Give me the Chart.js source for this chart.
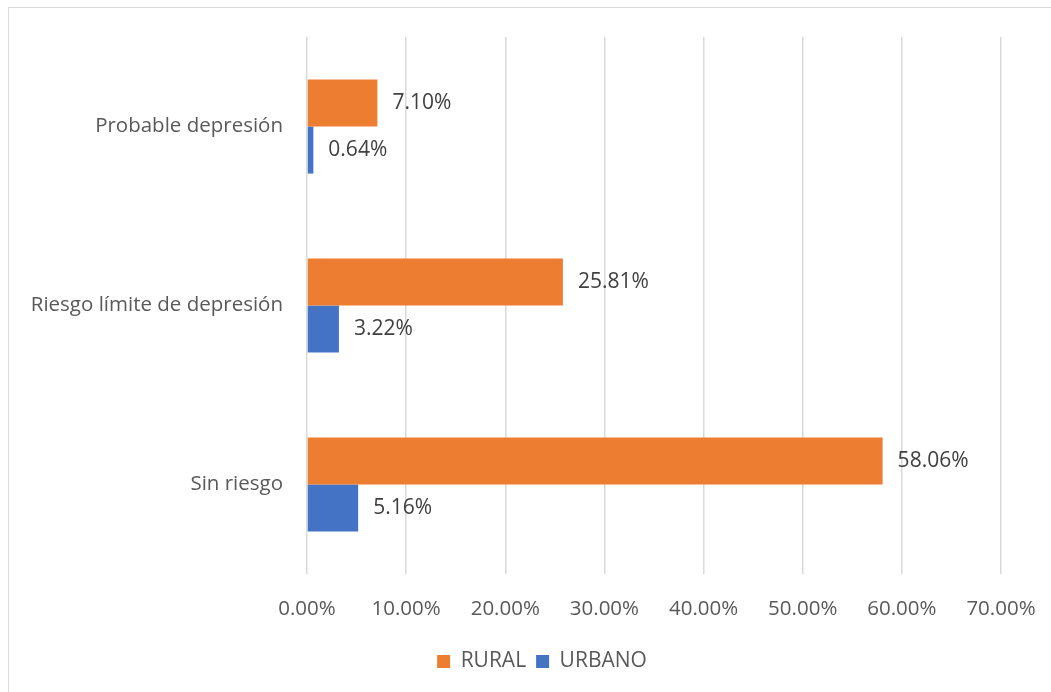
<!DOCTYPE html>
<html lang="es">
<head>
<meta charset="UTF-8" />
<title>Depresión por zona</title>
<script src="https://cdn.jsdelivr.net/npm/chart.js"></script>
<style>
  html, body { margin: 0; padding: 0; background: #fff; overflow: hidden; }
  #frame {
    position: absolute; left: 8px; top: 7px;
    width: 1043px; height: 685px;
    border-top: 1px solid #d9d9d9; border-left: 1px solid #d9d9d9;
    box-sizing: border-box;
  }
</style>
</head>
<body>
<div id="frame"><canvas id="chart"></canvas></div>
<script>
const categories = ["Probable depresión", "Riesgo límite de depresión", "Sin riesgo"];
const rural = [7.10, 25.81, 58.06];
const urbano = [0.64, 3.22, 5.16];

const FONT = "'Open Sans', sans-serif";

// write the value next to the end of each bar
const valueLabels = {
  id: "valueLabels",
  afterDatasetsDraw(chart) {
    const ctx = chart.ctx;
    ctx.save();
    ctx.font = "21px " + FONT;
    ctx.fillStyle = "#404040";
    ctx.textAlign = "left";
    ctx.textBaseline = "middle";
    chart.data.datasets.forEach((ds, i) => {
      chart.getDatasetMeta(i).data.forEach((bar, j) => {
        ctx.fillText(ds.data[j].toFixed(2) + "%", bar.x + 15, bar.y);
      });
    });
    ctx.restore();
  }
};

// nudge the legend a little to the right, under the plot
const legendShift = {
  id: "legendShift",
  afterLayout(chart) {
    chart.legend.left += 37;
    chart.legend.right += 37;
  }
};

new Chart(document.getElementById("chart"), {
  type: "bar",
  data: {
    labels: categories,
    datasets: [
      { label: "RURAL", data: rural, backgroundColor: "#ED7D31" },
      { label: "URBANO", data: urbano, backgroundColor: "#4472C4" }
    ]
  },
  options: {
    indexAxis: "y",
    responsive: true,
    maintainAspectRatio: false,
    animation: false,
    datasets: { bar: { barPercentage: 1, categoryPercentage: 0.526 } },
    layout: { padding: { left: 0, right: 50, top: 29, bottom: 10 } },
    scales: {
      x: {
        min: 0, max: 70,
        ticks: {
          stepSize: 10,
          padding: 1,
          color: "#595959",
          font: { family: FONT, size: 20.5 },
          callback: v => v.toFixed(2) + "%"
        },
        grid: { color: "#d9d9d9", lineWidth: 1.5, tickLength: 22, tickColor: "transparent" },
        border: { display: false },
        afterFit: s => { s.height = 67; }
      },
      y: {
        ticks: {
          padding: 16,
          color: "#595959",
          font: { family: FONT, size: 20.5 }
        },
        grid: { display: false },
        border: { display: false },
        afterFit: s => { s.width = 298; }
      }
    },
    plugins: {
      legend: {
        position: "bottom",
        labels: {
          boxWidth: 13, boxHeight: 13, padding: 10,
          color: "#595959",
          font: { family: FONT, size: 21 }
        }
      },
      tooltip: { enabled: false }
    }
  },
  plugins: [valueLabels, legendShift]
});
</script>
</body>
</html>
